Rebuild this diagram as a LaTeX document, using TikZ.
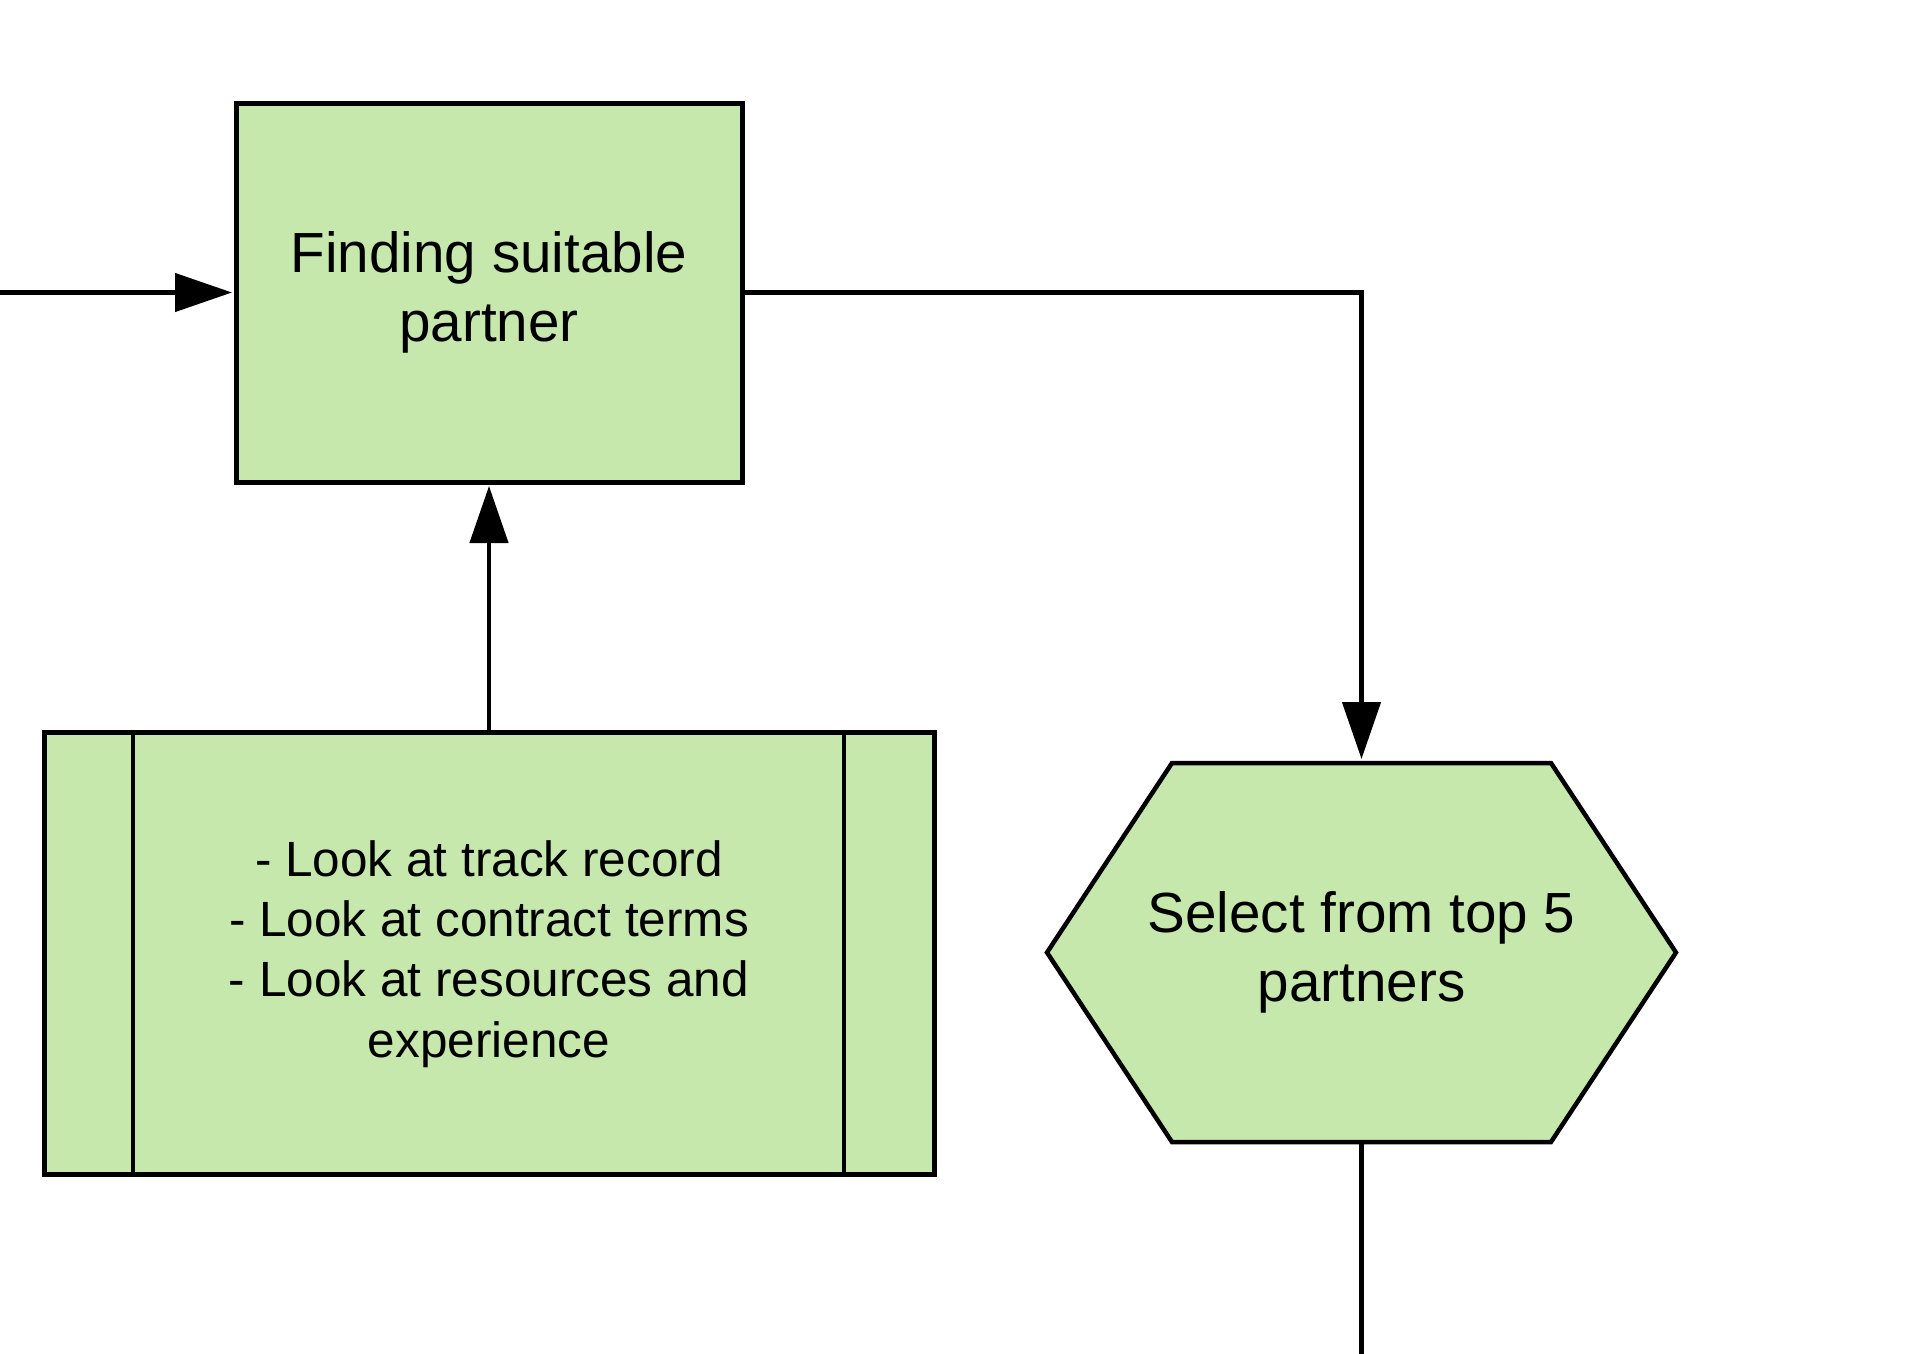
\documentclass[tikz,border=0pt]{standalone}
\usepackage{fontspec}
\setmainfont{Liberation Sans}
\usetikzlibrary{arrows.meta,calc}
\definecolor{boxgreen}{HTML}{C7E8AC}
\begin{document}
\begin{tikzpicture}[x=1pt,y=-1pt,
  every node/.style={outer sep=0pt, inner sep=0pt},
  bigfont/.style={font=\fontsize{56.6pt}{68.6pt}\selectfont},
  smallfont/.style={font=\fontsize{49.5pt}{60.4pt}\selectfont},
  procbox/.style={draw, line width=5pt, fill=boxgreen, minimum width=506pt, minimum height=379pt, align=center, bigfont},
  subbox/.style={draw, line width=5pt, fill=boxgreen, minimum width=890pt, minimum height=442pt, align=center, smallfont},
  hexshape/.style={draw, line width=4.5pt, fill=boxgreen, line join=miter},
  hextext/.style={minimum width=629pt, minimum height=379pt, align=center, bigfont},
  innerline/.style={line width=4.5pt},
  conn/.style={line width=4.5pt, -{Triangle[length=57pt,width=38pt]}, shorten >=4pt},
  plainconn/.style={line width=4.5pt}
]
\useasboundingbox (0,0) rectangle (1920,1354);
\fill[white] (0,0) rectangle (1920,1354);

\node[procbox] (find) at (489,292.5) {Finding suitable\\partner};

\node[subbox] (look) at (489,953) {- Look at track record\\- Look at contract terms\\- Look at resources and\\experience\\[-52pt]\mbox{}};
\draw[innerline] ($(look.north west)+(89,0)$) -- ($(look.south west)+(89,0)$);
\draw[innerline] ($(look.north east)+(-90,0)$) -- ($(look.south east)+(-90,0)$);

\filldraw[hexshape] (1047,952.5) -- (1172,763) -- (1551,763) -- (1676,952.5) -- (1551,1142) -- (1172,1142) -- cycle;
\node[hextext] (sel) at (1361.5,952.5) {Select from top 5\\partners};

\coordinate (in) at (0,292.5);
\coordinate (out) at (1361.5,1354);

\draw[conn] (in) -- (find.west);
\draw[conn] (look.north) -- (find.south);
\draw[conn] (find.east) -| (sel.north);
\draw[plainconn] (sel.south) -- (out);
\end{tikzpicture}
\end{document}
